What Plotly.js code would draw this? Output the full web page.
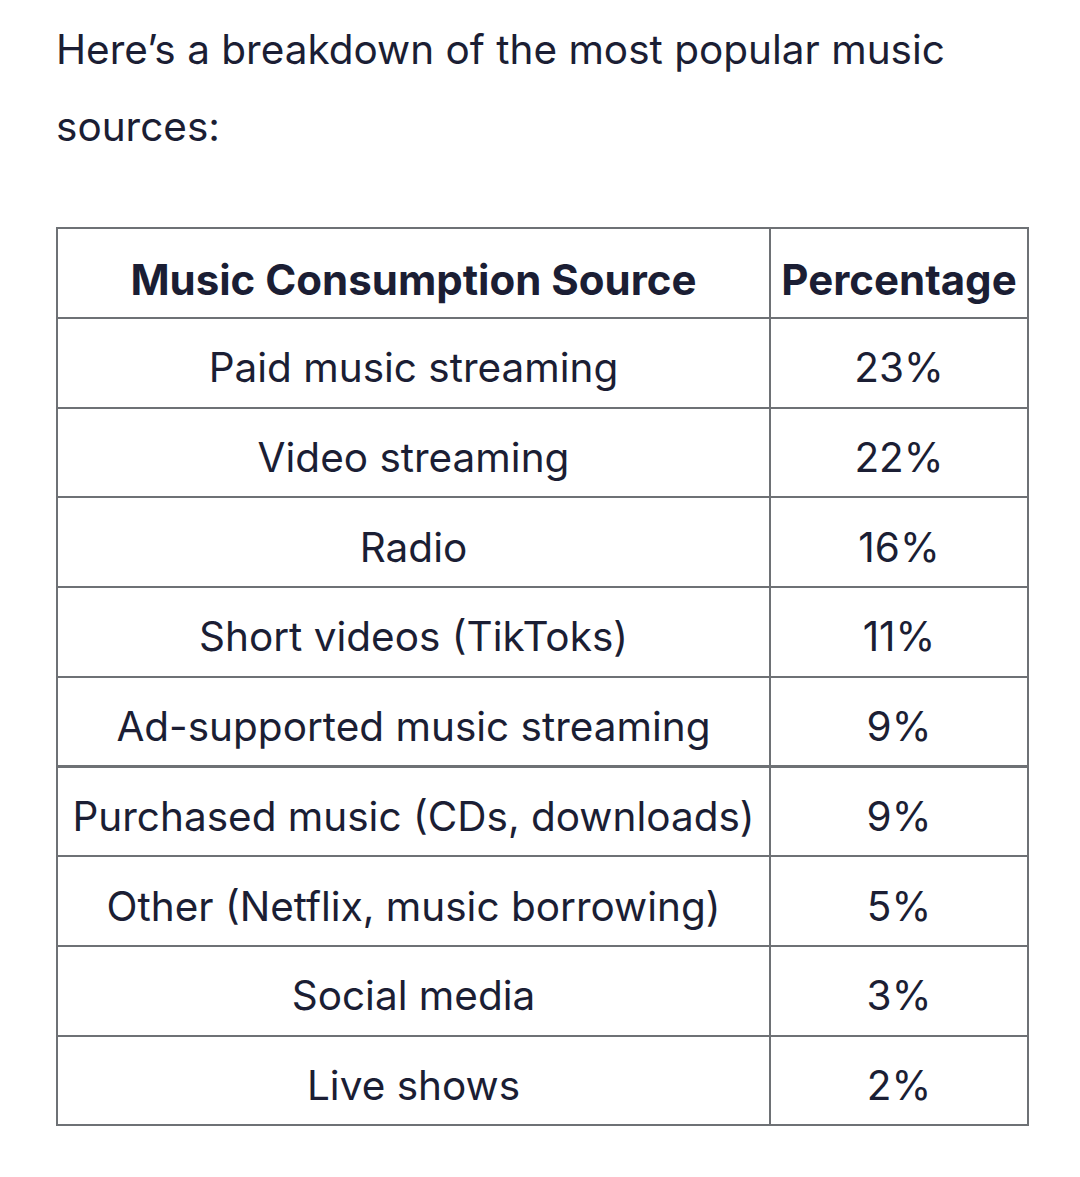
<!DOCTYPE html>
<html>
<head>
<meta charset="utf-8">
<script src="https://cdn.plot.ly/plotly-3.0.1.min.js"></script>
<style>html,body{margin:0;padding:0;background:#fff;}#chart{width:1080px;height:1177px;}</style>
</head>
<body>
<div id="chart"></div>
<script>
const introLines = ["Here’s a breakdown of the most popular music", "sources:"];
const headers = ["Music Consumption Source", "Percentage"];
const sources = [
  "Paid music streaming",
  "Video streaming",
  "Radio",
  "Short videos (TikToks)",
  "Ad-supported music streaming",
  "Purchased music (CDs, downloads)",
  "Other (Netflix, music borrowing)",
  "Social media",
  "Live shows"
];
const percentages = [23, 22, 16, 11, 9, 9, 5, 3, 2];

const textColor = "#1b1e34";
const lineColor = "#6e7175";
const W = 1080, H = 1177;
const fontFam = "Inter, sans-serif";

// Grid table: borders only (empty text)
const gridTrace = {
  type: "table",
  domain: {x: [57 / W, 1029 / W], y: [1 - 1126 / H, 1 - 228 / H]},
  columnwidth: [713, 258],
  header: {
    values: headers.map(() => ""),
    height: 90,
    line: {color: lineColor, width: 2},
    fill: {color: "#ffffff"}
  },
  cells: {
    values: [sources.map(() => ""), percentages.map(() => "")],
    height: 89.7,
    line: {color: lineColor, width: 2},
    fill: {color: "#ffffff"}
  }
};

// Text table: same columns, transparent lines, shifted down to centre text in each cell
const headShift = 18, cellShift = 26;
const textTrace = {
  type: "table",
  domain: {x: [57 / W, 1029 / W], y: [0, 1 - (228 + headShift) / H]},
  columnwidth: [713, 258],
  header: {
    values: headers.map(h => "<b>" + h + "</b>"),
    align: "center",
    height: 90 + (cellShift - headShift),
    line: {color: "rgba(0,0,0,0)", width: 0},
    fill: {color: "rgba(0,0,0,0)"},
    font: {family: fontFam, size: 42, color: textColor}
  },
  cells: {
    values: [sources, percentages.map(v => v + "%")],
    align: "center",
    height: 89.7,
    line: {color: "rgba(0,0,0,0)", width: 0},
    fill: {color: "rgba(0,0,0,0)"},
    font: {family: fontFam, size: 40.5, color: textColor}
  }
};

const layout = {
  width: W, height: H,
  margin: {l: 0, r: 0, t: 0, b: 0},
  paper_bgcolor: "#ffffff",
  showlegend: false,
  annotations: introLines.map((t, i) => ({
    text: t, xref: "paper", yref: "paper",
    x: 54 / W, y: 1 - (50 + i * 77) / H,
    xanchor: "left", yanchor: "middle", showarrow: false,
    font: {family: fontFam, size: 40.5, color: textColor}
  }))
};

Plotly.newPlot("chart", [gridTrace, textTrace], layout, {displayModeBar: false, staticPlot: true});
</script>
</body>
</html>
